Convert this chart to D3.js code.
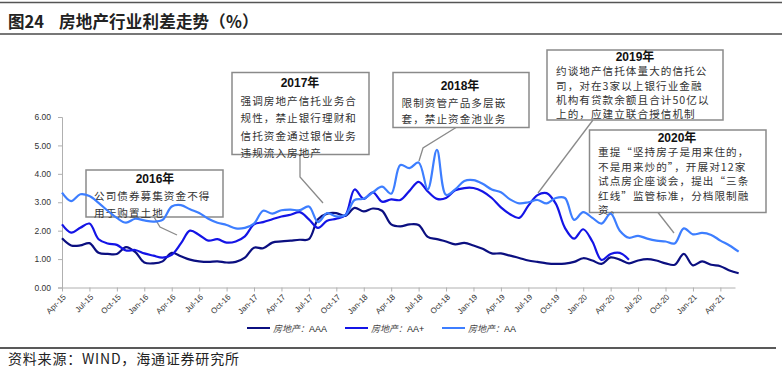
<!DOCTYPE html>
<html><head><meta charset="utf-8">
<script src="https://cdn.jsdelivr.net/npm/d3@7/dist/d3.min.js"></script>
<style>
html,body{margin:0;padding:0;background:#fff;}
svg{display:block;}
</style></head>
<body>
<script>
// ---- data (monthly, Apr-15 .. Jun-21) ----
const seriesNames = ["房地产：AAA", "房地产：AA+", "房地产：AA"];
const seriesCodes = ["AAA", "AA+", "AA"];
const aaa = [1.73,1.48,1.48,1.56,1.22,1.18,1.18,1.42,1.25,0.88,0.85,0.92,
  1.22,1.10,0.98,0.92,0.90,0.92,0.88,0.90,1.05,1.40,1.38,1.58,
  1.62,1.65,1.68,1.70,2.40,2.60,2.62,2.52,2.80,2.68,2.78,2.70,
  2.22,2.15,2.22,2.20,1.78,1.70,1.62,1.52,1.57,1.48,1.36,1.20,
  1.20,1.12,1.04,0.95,0.90,0.85,0.83,0.84,0.90,1.03,0.95,0.83,
  1.06,0.98,0.85,0.95,1.00,0.95,0.85,0.80,1.18,0.78,0.92,0.80,
  0.75,0.60,0.50];
const aaPlus = [2.22,1.93,2.10,2.25,1.70,1.55,1.50,1.30,1.32,1.20,1.12,1.05,
  1.15,1.55,2.00,1.85,1.65,1.70,1.58,1.62,1.80,2.22,2.30,2.40,
  2.50,2.56,2.65,2.40,2.10,2.35,2.42,2.55,3.45,3.12,3.35,3.02,
  3.10,3.08,3.40,3.72,3.38,3.12,3.15,3.42,3.50,3.50,3.38,3.15,
  2.82,2.58,2.45,2.88,3.25,3.32,2.95,2.10,1.72,2.05,1.62,0.97,
  1.18,1.22,0.98];
const aa = [3.34,3.04,3.28,3.22,2.98,2.70,2.45,2.28,2.42,2.36,2.32,2.38,
  2.85,2.90,2.75,2.62,2.42,2.28,2.20,2.08,2.10,2.25,2.70,2.60,
  2.72,2.74,2.72,2.85,2.30,2.62,2.50,2.55,3.08,3.12,3.35,3.55,
  3.30,4.31,4.20,4.40,3.45,4.84,3.26,3.45,3.75,3.78,3.65,3.45,
  3.35,3.10,2.96,3.00,3.08,2.96,3.15,3.15,2.38,2.65,2.45,2.25,
  2.60,2.00,1.75,1.82,1.72,1.65,1.62,1.55,2.08,1.87,1.92,1.85,
  1.65,1.48,1.26];
const xTickLabels = ["Apr-15","Jul-15","Oct-15","Jan-16","Apr-16","Jul-16","Oct-16",
  "Jan-17","Apr-17","Jul-17","Oct-17","Jan-18","Apr-18","Jul-18","Oct-18",
  "Jan-19","Apr-19","Jul-19","Oct-19","Jan-20","Apr-20","Jul-20","Oct-20",
  "Jan-21","Apr-21"];
const yTicks = [0,1,2,3,4,5,6];
const titleNo = "图24";
const titleText = "房地产行业利差走势（%）";
const sourceText = "资料来源：WIND，海通证券研究所";
const notes = [
  {year:"2016年", lines:["公司债券募集资金不得","用于购置土地"]},
  {year:"2017年", lines:["强调房地产信托业务合","规性，禁止银行理财和","信托资金通过银信业务","违规流入房地产"]},
  {year:"2018年", lines:["限制资管产品多层嵌","套，禁止资金池业务"]},
  {year:"2019年", lines:["约谈地产信托体量大的信托公","司，对在3家以上银行业金融","机构有贷款余额且合计50亿以","上的，应建立联合授信机制"]},
  {year:"2020年", lines:["重提“坚持房子是用来住的，","不是用来炒的”，开展对12家","试点房企座谈会，提出“三条","红线”监管标准，分档限制融","资。"]}
];

// ---- layout ----
const W = 782, H = 372;
const colors = ["#0b0f80", "#1414e6", "#3d7eff"];
const svg = d3.select("body").append("svg").attr("width", W).attr("height", H);

const x = d3.scaleLinear().domain([0, 73.6]).range([62, 735]);
const y = d3.scaleLinear().domain([0, 6]).range([287.5, 117]);
const cjk = "'Noto Sans CJK SC', sans-serif";
const font = "'Liberation Sans', Arial, sans-serif";

// title
svg.append("line").attr("x1",0).attr("x2",W).attr("y1",2.5).attr("y2",2.5).attr("stroke","#555").attr("stroke-width",1.5);
svg.append("text").attr("x",8).attr("y",28).text(titleNo)
  .attr("font-family",cjk).attr("font-size",16.5).attr("font-weight","bold").attr("fill","#222");
svg.append("text").attr("x",59).attr("y",28).text(titleText).attr("letter-spacing",0.2)
  .attr("font-family",cjk).attr("font-size",16.5).attr("font-weight","bold").attr("fill","#222");
svg.append("line").attr("x1",0).attr("x2",W).attr("y1",34).attr("y2",34).attr("stroke","#777").attr("stroke-width",2);

// axes
const yAxis = d3.axisLeft(y).tickValues(yTicks).tickFormat(d3.format(".2f")).tickSize(4).tickPadding(7);
const gy = svg.append("g").attr("transform","translate(62,0)").call(yAxis);
gy.selectAll("text").attr("font-family",font).attr("font-size",8.5).attr("fill","#333");
gy.selectAll("line,path").attr("stroke","#b0b0b0");

const xAxis = d3.axisBottom(x).tickValues(d3.range(0, 73, 3)).tickFormat((d,i)=>xTickLabels[i]).tickSize(4).tickSizeOuter(0);
const gx = svg.append("g").attr("transform","translate(0,287.5)").call(xAxis);
gx.selectAll("line,path").attr("stroke","#b0b0b0");
gx.selectAll("text").attr("font-family",font).attr("font-size",8).attr("fill","#333")
  .attr("x",0).attr("y",0).attr("dy","0.35em").attr("text-anchor","end")
  .attr("transform","translate(2,8) rotate(-45)");

// annotation boxes
const boxes = [
  {x:86, y:170, w:137, h:47, tx:94, ty:183, cx:155, lh:17, lead:[[154,217],[160,227],[177,235]]},
  {x:232, y:72.5, w:137, h:82, tx:240.5, ty:87, cx:300, lh:17.5, lead:[[300,154.5],[300,177],[323,203]]},
  {x:393, y:72.5, w:136, h:55, tx:401.5, ty:90, cx:460, lh:16.5, lead:[[456,127.5],[423,148],[419,161]]},
  {x:547, y:50, w:176, h:70, tx:556, ty:61, cx:635, lh:14.3, lead:[[593,120],[538,193]]},
  {x:589.5, y:130, w:176.5, h:82.5, tx:598, ty:141.5, cx:677, lh:14.5, lead:[[658,212.5],[674,233]]}
];
const gb = svg.append("g");
boxes.forEach((b,i)=>{
  gb.append("rect").attr("x",b.x).attr("y",b.y).attr("width",b.w).attr("height",b.h)
    .attr("fill","#fff").attr("stroke","#8a8a8a").attr("stroke-width",1.5);
  gb.append("path").attr("d", d3.line()(b.lead)).attr("fill","none").attr("stroke","#8a8a8a").attr("stroke-width",1.3);
  gb.append("text").attr("x",b.cx).attr("y",b.ty).attr("text-anchor","middle")
    .attr("font-family","'Liberation Sans', Arial, 'Noto Sans CJK SC', sans-serif").attr("font-weight","bold").attr("font-size",12).attr("fill","#111")
    .text(notes[i].year);
  const t = gb.append("text").attr("font-family",cjk).attr("font-size",10.6)
    .attr("letter-spacing",1.05).attr("fill","#333");
  notes[i].lines.forEach((ln,j)=>{
    t.append("tspan").attr("x",b.tx).attr("y",b.ty + (j+1)*b.lh).text(ln);
  });
});

// lines
const line = d3.line().x((d,i)=>x(i)).y(d=>y(d)).curve(d3.curveCatmullRom.alpha(0.5));
[aaa, aaPlus, aa].forEach((s,k)=>{
  svg.append("path").attr("d", line(s)).attr("fill","none").attr("stroke",colors[k])
    .attr("stroke-width",2.2).attr("stroke-linejoin","round");
});

// legend
const lg = svg.append("g");
const legX = [247, 345, 442];
seriesNames.forEach((n,k)=>{
  lg.append("line").attr("x1",legX[k]).attr("x2",legX[k]+23).attr("y1",328).attr("y2",328)
    .attr("stroke",colors[k]).attr("stroke-width",2);
  const t = lg.append("text").attr("x",legX[k]+26).attr("y",331.5).attr("font-size",9).attr("fill","#222");
  t.append("tspan").attr("font-family",cjk).attr("font-style","italic").attr("fill","#444").text("房地产：");
  t.append("tspan").attr("font-family",font).text(seriesCodes[k]);
});

// bottom rule and source
svg.append("line").attr("x1",0).attr("x2",776).attr("y1",348).attr("y2",348).attr("stroke","#222").attr("stroke-width",1.5);
svg.append("text").attr("x",8).attr("y",364).text(sourceText).attr("letter-spacing",0.8)
  .attr("font-family",cjk).attr("font-size",14).attr("fill","#222");
</script>
</body></html>
